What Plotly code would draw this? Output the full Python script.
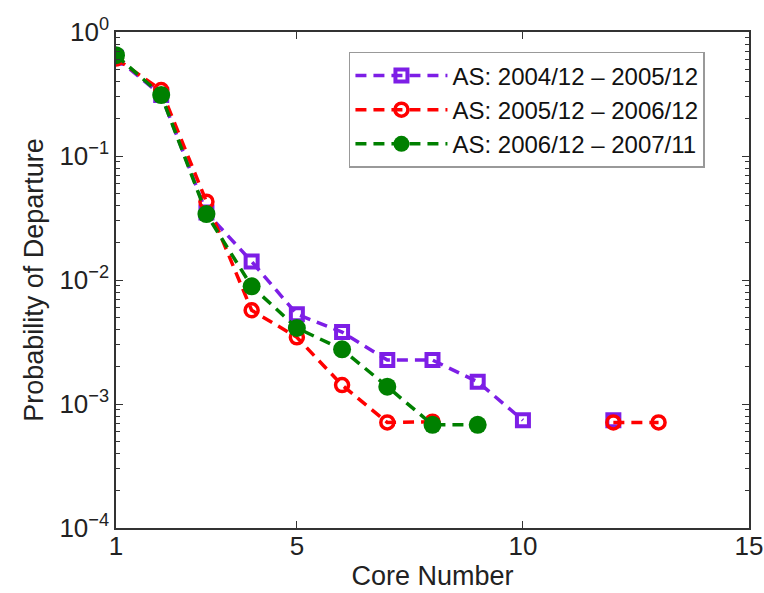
import plotly.graph_objects as go

# Data
core = [1, 2, 3, 4, 5, 6, 7, 8, 9, 10, 11, 12, 13]
as_2004 = [0.62, 0.31, 0.035, 0.0141, 0.0053, 0.0038, 0.00226, 0.00226, 0.00151, 0.00074, None, 0.00074, None]
as_2005 = [0.61, 0.34, 0.0428, 0.0057, 0.00345, 0.00142, 0.00071, 0.00072, None, None, None, 0.00071, 0.00071]
as_2006 = [0.65, 0.31, 0.034, 0.0089, 0.0041, 0.00276, 0.00138, 0.00068, 0.00068, None, None, None, None]

names = ["AS: 2004/12 – 2005/12", "AS: 2005/12 – 2006/12", "AS: 2006/12 – 2007/11"]
colors = ["#7d1ee6", "#ff0000", "#008000"]

dash = "11px,7px"
fig = go.Figure()
fig.add_trace(go.Scatter(x=core, y=as_2004, name=names[0], mode="lines+markers",
                         line=dict(color=colors[0], width=3.5, dash=dash),
                         marker=dict(symbol="square-open", size=12, color=colors[0], line=dict(width=4)),
                         connectgaps=False))
fig.add_trace(go.Scatter(x=core, y=as_2005, name=names[1], mode="lines+markers",
                         line=dict(color=colors[1], width=3.5, dash=dash),
                         marker=dict(symbol="circle-open", size=13, color=colors[1], line=dict(width=3.5)),
                         connectgaps=False))
fig.add_trace(go.Scatter(x=core, y=as_2006, name=names[2], mode="lines+markers",
                         line=dict(color=colors[2], width=3.5, dash=dash),
                         marker=dict(symbol="circle", size=18, color=colors[2]),
                         connectgaps=False))

ytickvals = [1e-4, 1e-3, 1e-2, 1e-1, 1]
yticktext = ["10<sup>−4</sup>", "10<sup>−3</sup>", "10<sup>−2</sup>", "10<sup>−1</sup>", "10<sup>0</sup>"]
minor_vals = [m * 10 ** e for e in range(-4, 0) for m in range(2, 10)]

font = "Liberation Sans, Arial, Helvetica, sans-serif"

fig.update_layout(
    width=764, height=593,
    margin=dict(l=116, r=15, t=32, b=65),
    paper_bgcolor="white", plot_bgcolor="white",
    font=dict(family=font, size=26, color="#222"),
    showlegend=True,
    legend=dict(x=0.368, y=0.96, xanchor="left", yanchor="top",
                bgcolor="white", bordercolor="#999", borderwidth=1.5,
                font=dict(size=24, color="#111"), tracegroupgap=0, itemwidth=92),
    xaxis=dict(range=[1, 15], tickvals=[1, 5, 10, 15], ticktext=["1", "5", "10", "15"],
               ticks="inside", ticklen=7, tickcolor="#333", showline=True, linecolor="#333",
               linewidth=1.5, mirror="ticks", showgrid=False, zeroline=False, automargin=False,
               ticklabelstandoff=-6,
               title=dict(text="Core Number", standoff=0, font=dict(size=27)),
               tickfont=dict(size=26)),
    yaxis=dict(type="log", range=[-4, 0], tickvals=ytickvals, ticktext=yticktext,
               ticks="inside", ticklen=7, tickcolor="#333", showline=True, linecolor="#333",
               linewidth=1.5, mirror="ticks", showgrid=False, zeroline=False, automargin=False,
               minor=dict(tickvals=minor_vals, ticks="inside", ticklen=4, tickcolor="#333", showgrid=False),
               title=dict(text="Probability of Departure", standoff=8, font=dict(size=27)),
               tickfont=dict(size=26)),
)

fig.write_html("out.html")
